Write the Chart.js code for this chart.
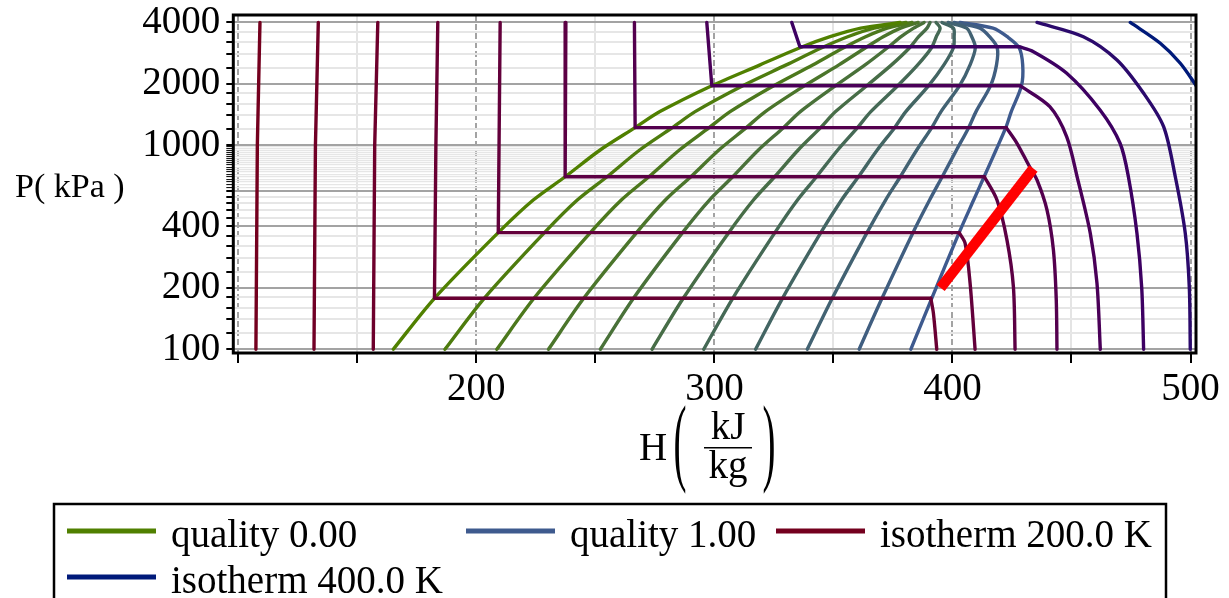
<!DOCTYPE html>
<html>
<head>
<meta charset="utf-8">
<script src="https://cdn.jsdelivr.net/npm/chart.js"></script>
<style>
  html, body { margin: 0; padding: 0; background: #fff; }
</style>
</head>
<body>
<canvas id="phChart" width="1229" height="598"></canvas>
<script>
const satP = [100, 177.8, 373, 539, 701, 948, 1220, 1462, 1959, 2477, 3006, 3404, 3750, 4000];

// enthalpy (kJ/kg) of each quality line at satP
const q000 = [165.1, 182.4, 209.2, 223.9, 237.3, 252.0, 266.7, 277.1, 298.9, 319.2, 335.9, 348.6, 361.5, 378.0];
const q010 = [186.8, 203.3, 228.6, 242.4, 254.9, 268.6, 282.3, 291.9, 311.9, 330.2, 345.1, 356.0, 367.1, 380.5];
const q020 = [208.6, 224.2, 247.9, 260.9, 272.5, 285.3, 297.8, 306.6, 324.9, 341.3, 354.3, 363.5, 372.6, 383.0];
const q030 = [230.3, 245.1, 267.3, 279.4, 290.1, 301.9, 313.4, 321.4, 337.9, 352.3, 363.5, 370.9, 378.2, 385.6];
const q040 = [252.1, 266.0, 286.6, 297.9, 307.7, 318.5, 329.0, 336.1, 350.9, 363.3, 372.7, 378.4, 383.7, 388.1];
const q050 = [273.8, 286.9, 306.0, 316.4, 325.3, 335.2, 344.6, 350.9, 364.0, 374.4, 382.0, 385.8, 389.3, 390.6];
const q060 = [295.5, 307.7, 325.4, 334.9, 342.9, 351.8, 360.1, 365.7, 377.0, 385.4, 391.2, 393.2, 394.8, 393.1];
const q070 = [317.3, 328.6, 344.7, 353.4, 360.5, 368.4, 375.7, 380.4, 390.0, 396.4, 400.4, 400.7, 400.4, 395.6];
const q080 = [339.0, 349.5, 364.1, 371.9, 378.1, 385.0, 391.3, 395.2, 403.0, 407.4, 409.6, 408.1, 405.9, 398.2];
const q090 = [360.8, 370.4, 383.4, 390.4, 395.7, 401.7, 406.8, 409.9, 416.0, 418.5, 418.8, 415.6, 411.5, 400.7];
const q100 = [382.5, 391.3, 402.8, 408.9, 413.3, 418.3, 422.4, 424.7, 429.0, 429.5, 428.0, 423.0, 417.0, 403.2];
const qualityLevels = [0, 0.1, 0.2, 0.3, 0.4, 0.5, 0.6, 0.7, 0.8, 0.9, 1];
const qualityH = [q000, q010, q020, q030, q040, q050, q060, q070, q080, q090, q100];

// isotherms as [H kJ/kg, P kPa], from the top (liquid) down to 100 kPa
const iso200 = [[109.1, 4000], [108.0, 1000], [107.4, 100]];
const iso220 = [[133.6, 4000], [132.4, 1000], [131.8, 100]];
const iso240 = [[158.6, 4000], [157.3, 1000], [156.7, 100]];
const iso260 = [[183.8, 4000], [183.0, 1000], [182.4, 177.8], [390.9, 177.8], [392.0, 150], [393.4, 100]];
const iso280 = [[210.0, 4000], [209.2, 373], [402.8, 373], [405.3, 331], [407.4, 211], [409.5, 100]];
const iso300 = [[237.6, 4000], [237.3, 701], [413.4, 701], [418.7, 539], [422.9, 343], [425.6, 202], [426.3, 100]];
const iso320 = [[266.4, 4000], [266.7, 1220], [422.6, 1220], [427.1, 1023], [432.0, 800], [435.5, 676], [439.7, 482], [442.4, 307], [443.6, 175], [443.9, 100]];
const iso340 = [[296.8, 4000], [298.9, 1959], [428.4, 1959], [440.9, 1545], [448.0, 1100], [452.5, 690], [457.9, 370], [460.7, 211], [462.1, 100]];
const iso360 = [[332.5, 4000], [335.9, 3041], [428.0, 3041], [434.0, 2876], [448.0, 2254], [462.0, 1489], [470.4, 1023], [473.9, 701], [477.5, 370], [479.5, 200], [480.3, 100]];
const iso380 = [[435.5, 4000], [455.0, 3404], [469.1, 2618], [480.3, 1798], [488.7, 1233], [493.6, 701], [497.8, 370], [499.5, 200], [499.9, 100]];
const iso400 = [[474.7, 4000], [487.3, 3162], [495.7, 2523], [502.7, 1937]];
const isoTemps = [200, 220, 240, 260, 280, 300, 320, 340, 360, 380, 400];
const isoCurves = [iso200, iso220, iso240, iso260, iso280, iso300, iso320, iso340, iso360, iso380, iso400];
const isoVaporStart = [2, 2, 2, 3, 2, 2, 2, 2, 2, 0, 0];   // index where the superheated branch begins

// the red process line
const strokeH = [395, 434];
const strokeP = [200, 770];

// axes
const xTicks = [100, 150, 200, 250, 300, 350, 400, 450, 500];
const xLabels = [200, 300, 400, 500];
const yTicks = [100, 120, 140, 160, 180, 200, 240, 280, 320, 360, 400, 440, 480, 520, 560, 600,
  620, 640, 660, 680, 700, 720, 740, 760, 780, 800, 820, 840, 860, 880, 900, 920, 940, 960, 980,
  1000, 1200, 1400, 1600, 1800, 2000, 2400, 2800, 3200, 3600, 4000];
const yLabels = [100, 200, 400, 1000, 2000, 4000];
const yMajor = [100, 200, 400, 600, 1000, 2000, 4000];

const isoColors = ['#74001e', '#710026', '#6d002c', '#690033', '#63003b', '#5c0044', '#54004e', '#4a0058', '#3d0062', '#2b0a6c', '#001a7a'];
const qLow = [80, 128, 0], qHigh = [62, 90, 142];
function qColor(t) {
  const c = qLow.map((v, i) => Math.round(v + (qHigh[i] - v) * t));
  return 'rgb(' + c.join(',') + ')';
}
const serif = "'Liberation Serif', 'Times New Roman', serif";

const datasets = [];
datasets.push({
  label: 'process',
  data: strokeH.map((h, i) => ({ x: h, y: strokeP[i] })),
  borderColor: '#ff0000', borderWidth: 10.5, borderCapStyle: 'butt', order: 0
});
isoCurves.forEach((pts, i) => {
  const k = isoVaporStart[i];
  const liq = pts.slice(0, k + 1), vap = pts.slice(k);
  const base = { label: 'isotherm ' + isoTemps[i].toFixed(1) + ' K', borderColor: isoColors[i], borderWidth: 3.4, order: 1 };
  if (liq.length > 1) datasets.push(Object.assign({}, base, { data: liq.map(p => ({ x: p[0], y: p[1] })), tension: 0 }));
  if (vap.length > 1) datasets.push(Object.assign({}, base, { data: vap.map(p => ({ x: p[0], y: p[1] })), tension: 0.3 }));
});
qualityH.forEach((hs, i) => {
  datasets.push({
    label: 'quality ' + qualityLevels[i].toFixed(2),
    data: hs.map((h, j) => ({ x: h, y: satP[j] })),
    borderColor: qColor(qualityLevels[i]), borderWidth: 3.4, tension: 0.3, order: 2
  });
});

const legendEntries = [
  { label: 'quality 0.00', color: qColor(0) },
  { label: 'quality 1.00', color: qColor(1) },
  { label: 'isotherm 200.0 K', color: isoColors[0] },
  { label: 'isotherm 400.0 K', color: isoColors[isoColors.length - 1] }
];
const legendSpots = [[67, 531], [466, 531], [776, 531], [67, 577]];

const denseBand = v => v > 600 && v < 1000;

const decor = {
  id: 'decor',
  afterDraw(chart) {
    const { ctx, chartArea: a } = chart;
    ctx.save();
    ctx.strokeStyle = '#000';
    ctx.lineWidth = 3;
    ctx.strokeRect(a.left, a.top, a.right - a.left, a.bottom - a.top);

    ctx.fillStyle = '#000';
    ctx.textBaseline = 'alphabetic';
    ctx.textAlign = 'left';
    ctx.font = '34px ' + serif;
    ctx.fillText('P( kPa )', 15, 197);

    // H (kJ / kg)
    ctx.font = '39px ' + serif;
    ctx.fillText('H', 639, 460);
    ctx.textAlign = 'center';
    ctx.fillText('kJ', 728, 439);
    ctx.fillText('kg', 728, 478);
    ctx.fillRect(704, 447, 48, 1.5);
    ctx.textBaseline = 'middle';
    [['(', 680], [')', 769]].forEach(([ch, x]) => {
      ctx.save();
      ctx.translate(x, 447);
      ctx.scale(1, 2.5);
      ctx.fillText(ch, 0, 0);
      ctx.restore();
    });

    // legend
    ctx.lineWidth = 2.5;
    ctx.strokeRect(54, 504, 1112, 120);
    ctx.textAlign = 'left';
    ctx.textBaseline = 'alphabetic';
    legendEntries.forEach((e, i) => {
      const [x, y] = legendSpots[i];
      ctx.fillStyle = e.color;
      ctx.fillRect(x, y - 2.5, 89, 5);
      ctx.fillStyle = '#000';
      ctx.fillText(e.label, x + 104, y + 16);
    });
    ctx.restore();
  }
};

new Chart(document.getElementById('phChart'), {
  type: 'scatter',
  data: { datasets },
  options: {
    responsive: false,
    animation: false,
    showLine: true,
    elements: { point: { radius: 0 }, line: { borderJoinStyle: 'round', borderCapStyle: 'round', fill: false } },
    layout: { padding: { top: 15, right: 33, left: 0, bottom: 0 } },
    plugins: { legend: { display: false }, tooltip: { enabled: false } },
    scales: {
      x: {
        type: 'linear', min: 97.9, max: 502.3,
        afterBuildTicks: axis => { axis.ticks = xTicks.map(v => ({ value: v })); },
        afterFit: axis => {
          axis.height = 245;
          axis.paddingLeft = 0; axis.paddingRight = 0;
        },
        grid: {
          color: c => (c.tick && c.tick.value % 100 === 0) ? '#a3a3a3' : '#e4e4e4',
          lineWidth: 2, tickLength: 10, tickColor: '#000', tickWidth: 2
        },
        border: { display: false, dash: c => (c.tick && c.tick.value % 100 === 0) ? [6, 3] : [] },
        ticks: {
          autoSkip: false, maxRotation: 0, padding: 3, color: '#000',
          font: { family: serif, size: 39 },
          callback: v => xLabels.includes(v) ? String(v) : ''
        }
      },
      y: {
        type: 'logarithmic', min: 95.9, max: 4350,
        afterBuildTicks: axis => { axis.ticks = yTicks.map(v => ({ value: v })); },
        afterFit: axis => {
          axis.width = 233.3;
          axis.paddingTop = 0; axis.paddingBottom = 0;
        },
        grid: {
          color: c => (c.tick && yMajor.includes(c.tick.value)) ? '#a3a3a3' : '#e6e6e6',
          lineWidth: c => (c.tick && denseBand(c.tick.value)) ? 1.2 : 2,
          tickLength: 7, tickColor: '#000',
          tickWidth: c => (c.tick && denseBand(c.tick.value)) ? 1 : 2
        },
        border: { display: false },
        ticks: {
          autoSkip: false, padding: 6, color: '#000',
          font: { family: serif, size: 39 },
          callback: v => yLabels.includes(v) ? String(v) : ''
        }
      }
    }
  },
  plugins: [decor]
});
</script>
</body>
</html>
